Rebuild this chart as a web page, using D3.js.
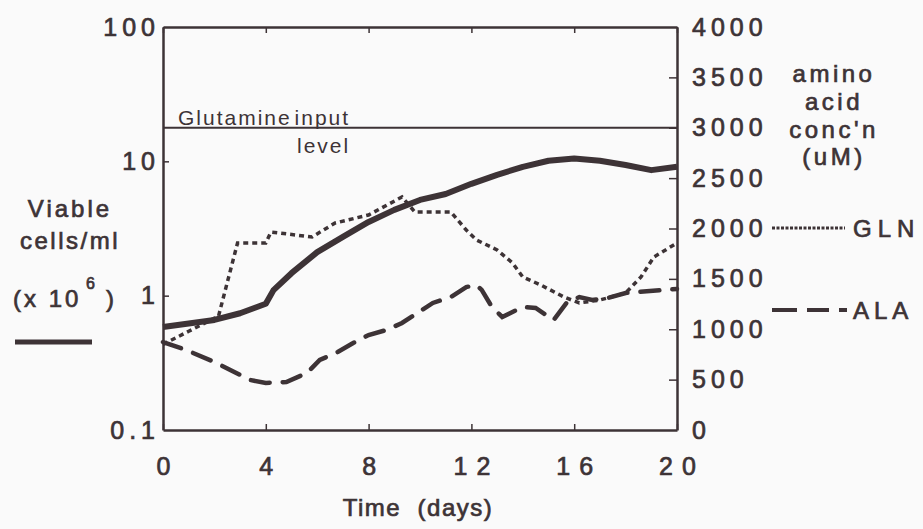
<!DOCTYPE html>
<html>
<head>
<meta charset="utf-8">
<script src="https://cdn.jsdelivr.net/npm/d3@7"></script>
<style>
  body { margin: 0; background: #fafafa; }
  svg { display: block; font-family: "Liberation Sans", Arial, sans-serif; }
</style>
</head>
<body>
<script>
const w = 923;
const h = 529;
const ink = "#3d3336";

// plot frame
const plotLeft = 163, plotRight = 677, plotTop = 27, plotBottom = 430;

// ticks
const xTicks = [0, 4, 8, 12, 16, 20];
const cellTicks = [0.1, 1, 10, 100];
const concTicks = [0, 500, 1000, 1500, 2000, 2500, 3000, 3500, 4000];
const glutamineInput = 3000;

// viable cells (x 10^6 / ml), left log axis
const cellDays   = [0, 2, 3, 4, 4.3, 5, 6, 7, 8, 9, 10, 11, 12, 13, 14, 15, 16, 17, 18, 19, 20];
const cellValues = [0.585, 0.66, 0.74, 0.87, 1.1, 1.47, 2.11, 2.74, 3.54, 4.35, 5.16, 5.71, 6.8, 7.93, 9.1, 10.1, 10.5, 10.1, 9.4, 8.6, 9.1];

// glutamine (uM), right axis
const glnDays   = [0, 1, 2, 2.15, 2.9, 4, 4.2, 5.8, 6.7, 8, 9.3, 9.8, 11.2, 11.8, 12.2, 13, 13.6, 14, 14.7, 15.6, 16.2, 17, 18, 18.6, 19.1, 20];
const glnValues = [850, 980, 1110, 1120, 1856, 1856, 1965, 1916, 2055, 2134, 2313, 2164, 2164, 1985, 1886, 1787, 1658, 1519, 1439, 1320, 1261, 1290, 1360, 1519, 1717, 1856];

// alanine (uM), right axis
const alaDays   = [0, 0.9, 2, 3.4, 4, 4.8, 5.6, 6.1, 6.8, 7.4, 8, 8.7, 9.3, 9.9, 10.5, 11.2, 11.8, 12.2, 12.4, 12.8, 13.2, 14, 14.5, 15.2, 15.7, 16.2, 16.7, 17.3, 18, 19.5, 20];
const alaValues = [873, 794, 675, 496, 467, 476, 566, 695, 774, 863, 943, 993, 1062, 1161, 1261, 1320, 1419, 1439, 1390, 1221, 1122, 1221, 1211, 1092, 1261, 1320, 1290, 1310, 1360, 1390, 1400];

const svg = d3.select("body").append("svg").attr("width", w).attr("height", h);
svg.append("rect").attr("width", w).attr("height", h).attr("fill", "#fafafa");

const xScale = d3.scaleLinear().domain([0, 20]).range([plotLeft, plotRight]);
const cellScale = d3.scaleLog().domain([0.1, 100]).range([plotBottom, plotTop]);
const concScale = d3.scaleLinear().domain([0, 4000]).range([plotBottom, plotTop]);

// medium-weight look: regular face with a thin outline
function ink_text(t, size, ls) {
  t.attr("fill", ink).attr("stroke", ink).attr("stroke-width", 0.7)
    .style("font-size", size + "px")
    .style("font-weight", "normal")
    .style("letter-spacing", ls + "px");
}

function styleAxis(g, fontSize, ls) {
  g.attr("font-family", null).attr("font-size", null);
  g.select(".domain").attr("stroke", ink).attr("stroke-width", 2.5);
  g.selectAll(".tick line").attr("stroke", ink).attr("stroke-width", 1.5);
  g.selectAll(".tick text").call(ink_text, fontSize, ls);
}

// bottom
const xAxis = svg.append("g").attr("transform", "translate(0," + plotBottom + ")")
  .call(d3.axisBottom(xScale).tickValues(xTicks).tickSizeInner(-6).tickSizeOuter(0).tickPadding(27));
styleAxis(xAxis, 25, 9);
xAxis.selectAll(".tick text").attr("dx", 4.5);

// top
const topAxis = svg.append("g").attr("transform", "translate(0," + plotTop + ")")
  .call(d3.axisTop(xScale).tickValues(xTicks).tickFormat("").tickSizeInner(-6).tickSizeOuter(0));
styleAxis(topAxis, 25, 0);

// left (log)
const yAxis = svg.append("g").attr("transform", "translate(" + plotLeft + ",0)")
  .call(d3.axisLeft(cellScale).tickValues(cellTicks).tickFormat(d3.format("")).tickSizeInner(-6).tickSizeOuter(0).tickPadding(8));
styleAxis(yAxis, 25, 5);
yAxis.selectAll(".tick").filter(d => d === 0.1 || d === 100).select("line").remove();
yAxis.selectAll(".tick text").attr("dx", 5);

// right
const rAxis = svg.append("g").attr("transform", "translate(" + plotRight + ",0)")
  .call(d3.axisRight(concScale).tickValues(concTicks).tickFormat(d3.format("d")).tickSizeInner(-8).tickSizeOuter(0).tickPadding(15));
styleAxis(rAxis, 25, 5);
rAxis.selectAll(".tick").filter(d => d === 0 || d === 4000).select("line").remove();

// glutamine input level
svg.append("line")
  .attr("x1", plotLeft).attr("x2", plotRight)
  .attr("y1", concScale(glutamineInput)).attr("y2", concScale(glutamineInput))
  .attr("stroke", ink).attr("stroke-width", 2);

const noteStyle = t => t.attr("fill", ink).style("font-size", "21px").style("letter-spacing", "2px");
svg.append("text").attr("x", 178).attr("y", 125).text("Glutamine input").call(noteStyle).style("word-spacing", "-5px");
svg.append("text").attr("x", 297).attr("y", 153).text("level").call(noteStyle);

// series
const lineCells = d3.line().x((d, i) => xScale(cellDays[i])).y(d => cellScale(d));
const lineConc = days => d3.line().x((d, i) => xScale(days[i])).y(d => concScale(d));

svg.append("path").datum(glnValues)
  .attr("d", lineConc(glnDays))
  .attr("fill", "none").attr("stroke", ink).attr("stroke-width", 3.5)
  .attr("stroke-dasharray", "5,4");

svg.append("path").datum(alaValues)
  .attr("d", lineConc(alaDays))
  .attr("fill", "none").attr("stroke", ink).attr("stroke-width", 4.5)
  .attr("stroke-dasharray", "19,13").attr("stroke-linecap", "round");

svg.append("path").datum(cellValues)
  .attr("d", lineCells)
  .attr("fill", "none").attr("stroke", ink).attr("stroke-width", 6)
  .attr("stroke-linejoin", "round");

// left title
const label = (t, ls) => t.call(ink_text, 24, ls);
svg.append("text").attr("x", 70).attr("y", 217).attr("text-anchor", "middle").text("Viable").call(label, 3);
svg.append("text").attr("x", 70).attr("y", 249).attr("text-anchor", "middle").text("cells/ml").call(label, 2.5);
svg.append("text").attr("x", 13).attr("y", 307).text("(x 10").call(label, 3);
svg.append("text").attr("x", 86).attr("y", 289).text("6").call(ink_text, 16, 0);
svg.append("text").attr("x", 106).attr("y", 307).text(")").call(label, 0);
svg.append("line").attr("x1", 15).attr("x2", 92).attr("y1", 342).attr("y2", 342)
  .attr("stroke", ink).attr("stroke-width", 5);

// right title
const rTitle = [["amino", 82], ["acid", 110], ["conc'n", 138], ["(uM)", 165]];
rTitle.forEach(([s, y]) => {
  svg.append("text").attr("x", 834).attr("y", y).attr("text-anchor", "middle").text(s).call(label, 3.5);
});

// series legend
svg.append("line").attr("x1", 772).attr("x2", 845).attr("y1", 228).attr("y2", 228)
  .attr("stroke", ink).attr("stroke-width", 3).attr("stroke-dasharray", "3,1.5");
svg.append("text").attr("x", 853).attr("y", 237).text("GLN").call(label, 6);
svg.append("line").attr("x1", 772).attr("x2", 847).attr("y1", 310).attr("y2", 310)
  .attr("stroke", ink).attr("stroke-width", 4).attr("stroke-dasharray", "25,10,22,10,8");
svg.append("text").attr("x", 853).attr("y", 319).text("ALA").call(label, 5);

// x title
svg.append("text").attr("x", 418).attr("y", 516).attr("text-anchor", "middle")
  .style("white-space", "pre").text("Time  (days)").call(label, 1.5);
</script>
</body>
</html>
